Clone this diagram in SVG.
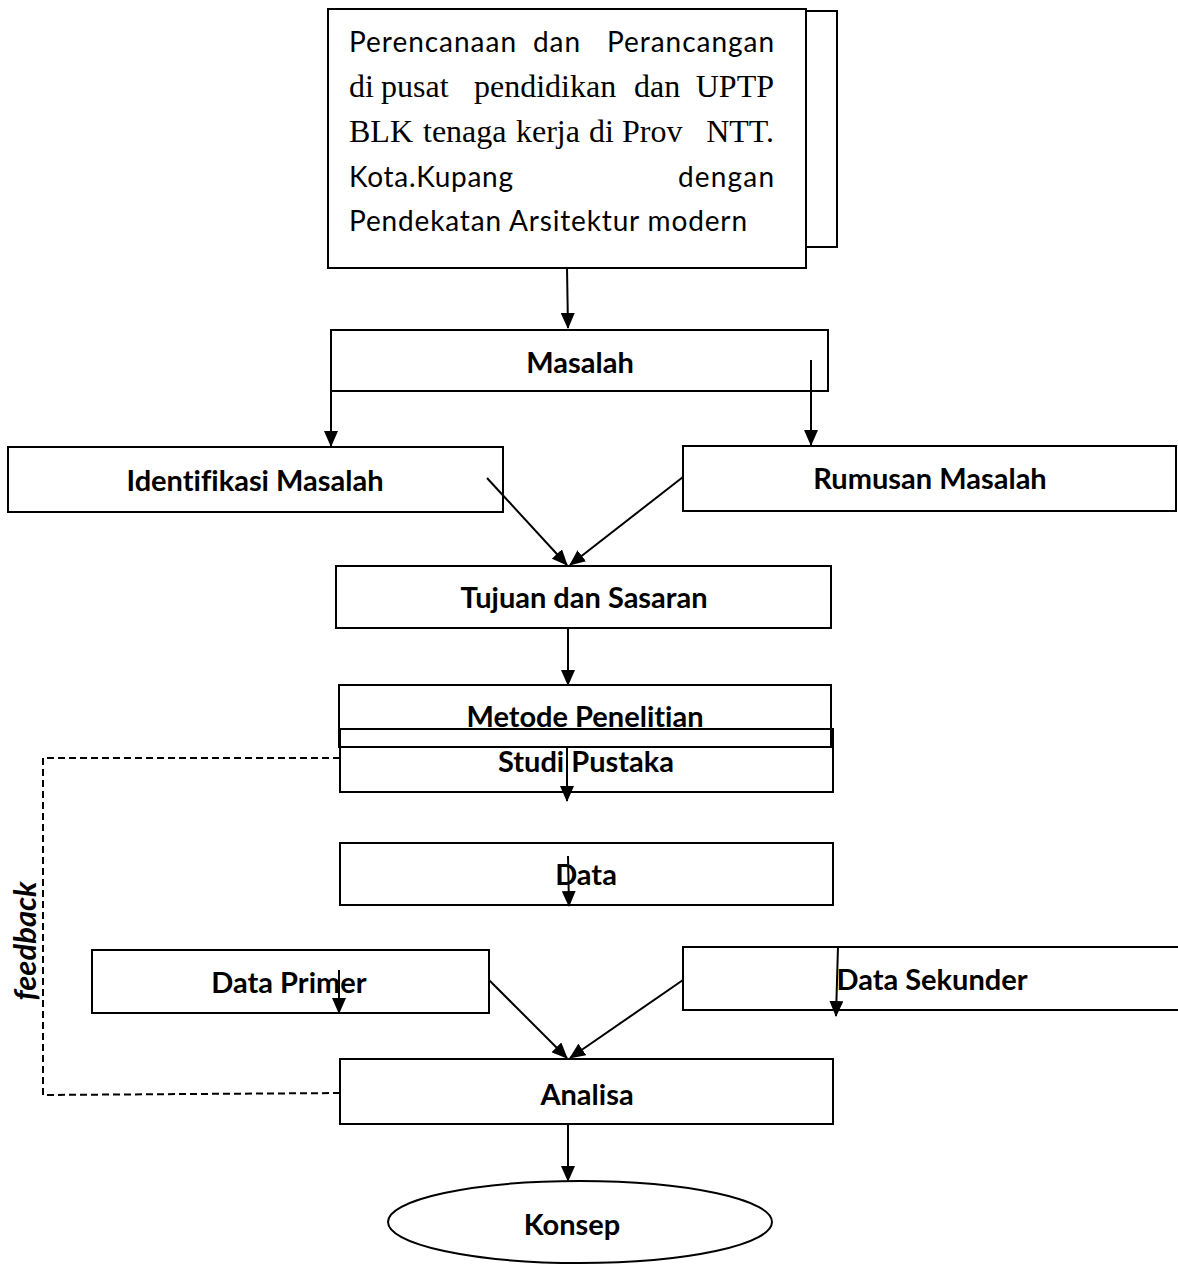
<svg xmlns="http://www.w3.org/2000/svg" width="1178" height="1265" viewBox="0 0 1178 1265">
<style>
text{font-variant-ligatures:none}
.box{fill:#fff;stroke:#000;stroke-width:2}
.lbl{font-family:Lato,"Open Sans","Liberation Sans",sans-serif;font-weight:bold;font-size:29px;fill:#000;text-anchor:middle}
.sans{font-family:Lato,"Open Sans","Liberation Sans",sans-serif;font-size:28px;fill:#000}
.serif{font-family:"Liberation Serif","Times New Roman",serif;font-size:32px;fill:#000}
.ln{fill:none;stroke:#000;stroke-width:2}
.dash{fill:none;stroke:#000;stroke-width:2;stroke-dasharray:7,4}
</style>
<defs>
<marker id="ah" markerUnits="userSpaceOnUse" markerWidth="16" markerHeight="14" refX="15" refY="7" orient="auto">
<path d="M0,0 L16,7 L0,14 z" fill="#000"/>
</marker>
</defs>
<rect width="1178" height="1265" fill="#fff"/>

<g id="node-judul">
<rect class="box" x="360" y="11" width="477" height="236"/>
<rect class="box" x="328" y="9" width="478" height="259"/>
<text class="sans" y="52"><tspan x="349" textLength="167">Perencanaan</tspan><tspan x="533" textLength="47">dan</tspan><tspan x="607" textLength="167">Perancangan</tspan></text>
<text class="serif" y="97"><tspan x="349">di</tspan><tspan x="381">pusat</tspan><tspan x="474">pendidikan</tspan><tspan x="634">dan</tspan><tspan x="774" text-anchor="end">UPTP</tspan></text>
<text class="serif" y="142"><tspan x="349">BLK</tspan><tspan x="423">tenaga</tspan><tspan x="516">kerja</tspan><tspan x="589">di</tspan><tspan x="622">Prov</tspan><tspan x="774" text-anchor="end">NTT.</tspan></text>
<text class="sans" y="187"><tspan x="349" textLength="164">Kota.Kupang</tspan><tspan x="678" textLength="96">dengan</tspan></text>
<text class="sans" x="349" y="231" textLength="398">Pendekatan Arsitektur modern</text>
</g>

<g id="node-masalah">
<rect class="box" x="331" y="330" width="497" height="61"/>
<text class="lbl" x="580" y="373">Masalah</text>
</g>

<g id="node-identifikasi">
<rect class="box" x="8" y="447" width="495" height="65"/>
<text class="lbl" x="255" y="491">Identifikasi Masalah</text>
</g>

<g id="node-rumusan">
<rect class="box" x="683" y="446" width="493" height="65"/>
<text class="lbl" x="930" y="489">Rumusan Masalah</text>
</g>

<g id="node-tujuan">
<rect class="box" x="336" y="566" width="495" height="62"/>
<text class="lbl" x="584" y="608">Tujuan dan Sasaran</text>
</g>

<g id="node-metode">
<rect class="box" x="339" y="685" width="492" height="62"/>
<text class="lbl" x="585" y="727">Metode Penelitian</text>
</g>

<g id="node-studi">
<rect class="box" x="340" y="729" width="493" height="63" fill-opacity="0"/>
<rect x="341" y="748" width="491" height="43" fill="#fff"/>
<text class="lbl" x="586" y="772">Studi Pustaka</text>
</g>

<g id="node-data">
<rect class="box" x="340" y="843" width="493" height="62"/>
<text class="lbl" x="586" y="885">Data</text>
</g>

<g id="node-primer">
<rect class="box" x="92" y="950" width="397" height="63"/>
<text class="lbl" x="289" y="993">Data Primer</text>
</g>

<g id="node-sekunder">
<rect class="box" x="683" y="947" width="497" height="63"/>
<text class="lbl" x="932" y="990">Data Sekunder</text>
</g>

<g id="node-analisa">
<rect class="box" x="340" y="1059" width="493" height="65"/>
<text class="lbl" x="587" y="1105">Analisa</text>
</g>

<g id="node-konsep">
<ellipse class="box" cx="580" cy="1222" rx="192" ry="41"/>
<text class="lbl" x="572" y="1235">Konsep</text>
</g>

<g id="connectors">
<line class="ln" x1="567" y1="268" x2="568" y2="328" marker-end="url(#ah)"/>
<line class="ln" x1="331" y1="360" x2="331" y2="446" marker-end="url(#ah)"/>
<line class="ln" x1="811" y1="360" x2="811" y2="445" marker-end="url(#ah)"/>
<line class="ln" x1="487" y1="478" x2="567" y2="565" marker-end="url(#ah)"/>
<line class="ln" x1="683" y1="477" x2="570" y2="565" marker-end="url(#ah)"/>
<line class="ln" x1="568" y1="628" x2="568" y2="685" marker-end="url(#ah)"/>
<line class="ln" x1="567" y1="748" x2="567" y2="801" marker-end="url(#ah)"/>
<line class="ln" x1="568" y1="856" x2="569" y2="906" marker-end="url(#ah)"/>
<line class="ln" x1="339" y1="970" x2="339" y2="1013" marker-end="url(#ah)"/>
<line class="ln" x1="838" y1="946" x2="836" y2="1016" marker-end="url(#ah)"/>
<line class="ln" x1="489" y1="980" x2="567" y2="1058" marker-end="url(#ah)"/>
<line class="ln" x1="683" y1="980" x2="570" y2="1058" marker-end="url(#ah)"/>
<line class="ln" x1="568" y1="1124" x2="568" y2="1181" marker-end="url(#ah)"/>
<polyline class="dash" points="340,758 43,758 43,1095 342,1093"/>
<text x="36" y="941" transform="rotate(-90 36 941)" text-anchor="middle" font-family="Lato,'Open Sans','Liberation Sans',sans-serif" font-weight="bold" font-style="italic" font-size="31">feedback</text>
</g>
</svg>
